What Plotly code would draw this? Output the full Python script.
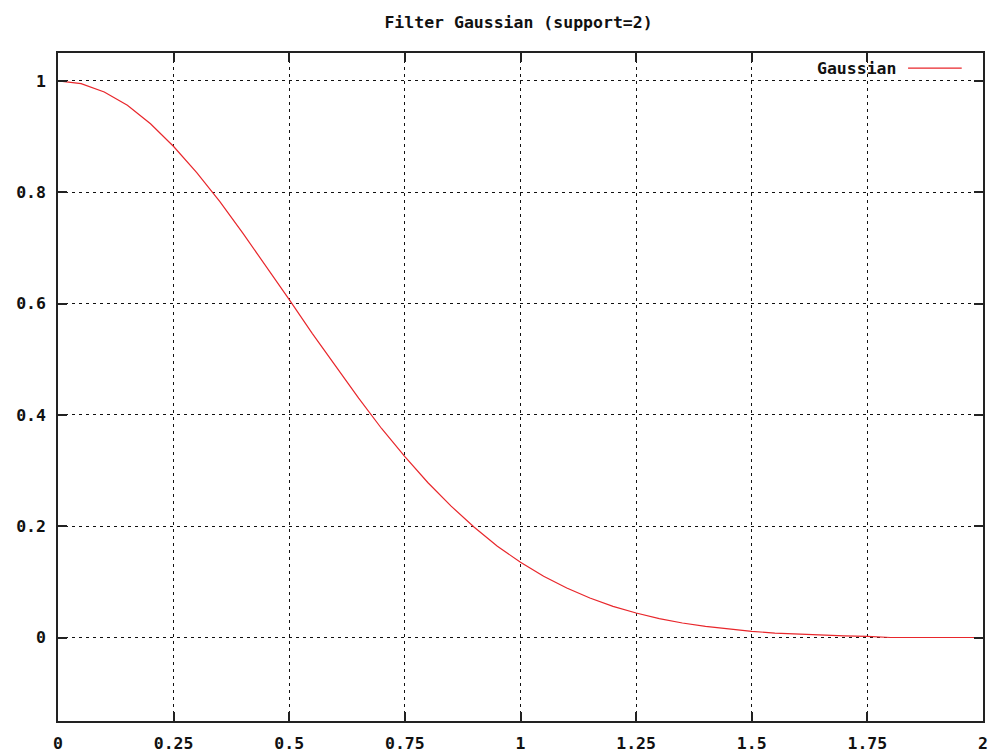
import plotly.graph_objects as go

# Data
x_vals = [0.0, 0.05, 0.1, 0.15, 0.2, 0.25, 0.3, 0.35, 0.4, 0.45, 0.5, 0.55, 0.6, 0.65,
          0.7, 0.75, 0.8, 0.85, 0.9, 0.95, 1.0, 1.05, 1.1, 1.15, 1.2, 1.25, 1.3, 1.35,
          1.4, 1.45, 1.5, 1.55, 1.6, 1.65, 1.7, 1.75, 1.8, 1.85, 1.9, 1.95, 2.0]
y_vals = [1.0, 0.995, 0.980, 0.956, 0.923, 0.882, 0.835, 0.783, 0.726, 0.667, 0.607,
          0.546, 0.487, 0.430, 0.375, 0.325, 0.278, 0.236, 0.198, 0.164, 0.135, 0.110,
          0.089, 0.071, 0.056, 0.044, 0.034, 0.026, 0.020, 0.015, 0.011, 0.008, 0.006,
          0.004, 0.003, 0.002, 0.0, 0.0, 0.0, 0.0, 0.0]
x_ticks = [0, 0.25, 0.5, 0.75, 1, 1.25, 1.5, 1.75, 2]
x_tick_labels = ["0", "0.25", "0.5", "0.75", "1", "1.25", "1.5", "1.75", "2"]
y_ticks = [0, 0.2, 0.4, 0.6, 0.8, 1]
y_tick_labels = ["0", "0.2", "0.4", "0.6", "0.8", "1"]
series_name = "Gaussian"
title_text = "Filter Gaussian (support=2)"

FONT = "DejaVu Sans Mono"
FS = 16.5
red = "#e8262b"
txt = dict(family=FONT, size=FS, color="#111111", weight="bold")

fig = go.Figure()
fig.add_trace(go.Scatter(x=x_vals, y=y_vals, mode="lines", name=series_name,
                         line=dict(color=red, width=1.2), showlegend=False))

axis_common = dict(showline=True, linecolor="#222222", linewidth=1.5, mirror="ticks",
                   ticks="inside", ticklen=9, tickcolor="#222222", tickwidth=1.5,
                   showgrid=True, gridcolor="#111111", gridwidth=1, griddash="3px,4px",
                   zeroline=False, tickfont=txt, automargin=False)

fig.update_xaxes(range=[0, 2], tickvals=x_ticks, ticktext=x_tick_labels,
                 ticklabelstandoff=6, **axis_common)
fig.update_yaxes(range=[-0.15, 1.05], tickvals=y_ticks, ticktext=y_tick_labels,
                 ticklabelstandoff=7, **axis_common)

fig.add_annotation(text=series_name, xref="paper", yref="paper", x=0.908, y=0.9775,
                   xanchor="right", yanchor="middle", showarrow=False, font=txt)
fig.add_shape(type="line", xref="paper", yref="paper", x0=0.919, x1=0.977,
              y0=0.9775, y1=0.9775, line=dict(color=red, width=1.2))

fig.update_layout(
    width=996, height=754,
    margin=dict(l=58, r=13, t=53, b=33),
    paper_bgcolor="white", plot_bgcolor="white",
    title=dict(text=title_text, x=0.5206, xanchor="center", y=0.9708, yanchor="middle",
               font=txt),
)

# remove the default page margin so the figure fills the 996x754 window exactly
fig.write_html("out.html", config={"displayModeBar": False},
               post_script="document.body.style.margin='0';document.body.style.overflow='hidden';")
